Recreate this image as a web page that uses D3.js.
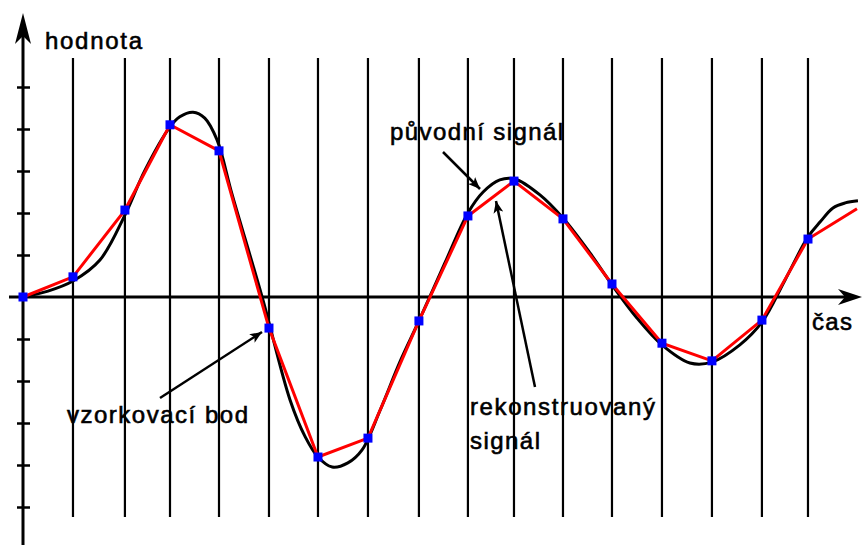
<!DOCTYPE html>
<html>
<head>
<meta charset="utf-8">
<script src="https://cdn.jsdelivr.net/npm/d3@7"></script>
<style>
  html, body { margin: 0; padding: 0; background: #fff; }
  svg { display: block; }
  text { font-family: "Liberation Sans", Arial, sans-serif; fill: #000; }
</style>
</head>
<body>
<svg id="chart" width="862" height="545"></svg>
<script>
// ---- data ----
const sampleTimes = [0, 1.02, 2.08, 3.0, 4.0, 5.02, 6.02, 7.04, 8.08, 9.08, 10.02, 11.02, 12.02, 13.04, 14.06, 15.08, 16.02];
const sampleValues = [0, 0.48, 2.07, 4.10, 3.48, -0.74, -3.81, -3.36, -0.57, 1.93, 2.76, 1.86, 0.31, -1.10, -1.52, -0.55, 1.38];
const reconTailTime = [17.02];
const reconTailValue = [2.10];
const signalTimes = [0, 0.51, 1.02, 1.57, 2.08, 2.49, 3.0, 3.20, 3.47, 3.71, 3.96, 4.27, 4.88, 5.45, 5.76, 6.02, 6.31, 6.63, 6.92, 7.29, 7.69, 8.08, 8.61, 9.08, 9.39, 9.73, 10.04, 10.55, 11.02, 11.57, 12.02, 12.53, 13.04, 13.61, 14.06, 14.63, 15.08, 15.55, 16.02, 16.27, 16.53, 16.78, 17.04];
const signalValues = [0, 0.14, 0.38, 0.88, 1.95, 3.02, 4.05, 4.29, 4.40, 4.26, 3.74, 2.43, 0, -2.45, -3.33, -3.81, -4.05, -3.95, -3.64, -2.69, -1.55, -0.57, 0.81, 2.0, 2.5, 2.79, 2.81, 2.43, 1.88, 1.05, 0.29, -0.5, -1.14, -1.57, -1.55, -1.14, -0.6, 0.40, 1.43, 1.79, 2.12, 2.24, 2.29];
const gridTimes = sampleTimes.slice(1);
const tickValues = [-5,-4,-3,-2,-1,1,2,3,4,5];
const yLabel = "hodnota";
const xLabel = "čas";
const labelSample = "vzorkovací bod";
const labelOriginal = "původní signál";
const labelRecon1 = "rekonstruovaný";
const labelRecon2 = "signál";

// ---- drawing ----
const svg = d3.select("#chart");
const x = d3.scaleLinear().domain([0, 17]).range([23, 23 + 17 * 49]);
const y = d3.scaleLinear().domain([-5, 5]).range([507, 87]);

const defs = svg.append("defs");
defs.append("marker").attr("id", "ah")
  .attr("viewBox", "0 0 12 10").attr("refX", 12).attr("refY", 5)
  .attr("markerWidth", 12).attr("markerHeight", 10).attr("markerUnits", "userSpaceOnUse")
  .attr("orient", "auto")
  .append("path").attr("d", "M0,0 L12,5 L0,10 L3,5 Z").attr("fill", "#000");

// vertical sample lines
svg.append("g").selectAll("line").data(gridTimes).join("line")
  .attr("x1", d => x(d)).attr("x2", d => x(d))
  .attr("y1", 58).attr("y2", 517)
  .attr("stroke", "#000").attr("stroke-width", 2.2);

// y axis ticks (via d3 axis)
const yAxis = d3.axisLeft(y).tickValues(tickValues).tickSize(13).tickFormat("");
const gy = svg.append("g").attr("transform", "translate(30,0)").call(yAxis);
gy.select(".domain").remove();
gy.selectAll(".tick line").attr("stroke", "#000").attr("stroke-width", 2.5);

// y axis line
svg.append("line").attr("x1", x(0)).attr("x2", x(0)).attr("y1", 30).attr("y2", 545)
  .attr("stroke", "#000").attr("stroke-width", 3);
// y arrow head
svg.append("path")
  .attr("d", `M${x(0)},13 L${x(0) + 8},44 L${x(0)},36 L${x(0) - 8},44 Z`)
  .attr("fill", "#000");

// x axis line
svg.append("line").attr("x1", 9).attr("x2", 848).attr("y1", y(0)).attr("y2", y(0))
  .attr("stroke", "#000").attr("stroke-width", 3);
svg.append("path")
  .attr("d", `M862,${y(0)} L838,${y(0) - 8} L845,${y(0)} L838,${y(0) + 8} Z`)
  .attr("fill", "#000");

// original signal
const signal = signalTimes.map((t, i) => [t, signalValues[i]]);
svg.append("path").datum(signal)
  .attr("d", d3.line().x(d => x(d[0])).y(d => y(d[1])).curve(d3.curveCatmullRom.alpha(0.5)))
  .attr("fill", "none").attr("stroke", "#000").attr("stroke-width", 3);

// reconstructed signal
const samples = sampleTimes.map((t, i) => [t, sampleValues[i]]);
const recon = samples.concat(reconTailTime.map((t, i) => [t, reconTailValue[i]]));
svg.append("path").datum(recon)
  .attr("d", d3.line().x(d => x(d[0])).y(d => y(d[1])))
  .attr("fill", "none").attr("stroke", "#ff0000").attr("stroke-width", 3);

// sample points
svg.append("g").selectAll("rect").data(samples).join("rect")
  .attr("x", d => x(d[0]) - 4.5).attr("y", d => y(d[1]) - 4.5)
  .attr("width", 9).attr("height", 9).attr("fill", "#0000ff");

// labels
function label(txt, lx, ly, len) {
  svg.append("text").attr("x", lx).attr("y", ly)
    .attr("font-size", 24).attr("textLength", len).attr("lengthAdjust", "spacing")
    .attr("stroke", "#000").attr("stroke-width", 0.6)
    .text(txt);
}
label(yLabel, 45, 49, 97);
label(xLabel, 812, 330, 40);
label(labelSample, 67, 423, 181);
label(labelOriginal, 390, 140, 173);
label(labelRecon1, 470, 415, 185);
label(labelRecon2, 470, 449, 70);

// annotation arrows
const arrows = [
  [160, 398, 262, 332],
  [443, 152, 480, 189],
  [535, 387, 496, 201]
];
svg.append("g").selectAll("line").data(arrows).join("line")
  .attr("x1", d => d[0]).attr("y1", d => d[1]).attr("x2", d => d[2]).attr("y2", d => d[3])
  .attr("stroke", "#000").attr("stroke-width", 2.5).attr("marker-end", "url(#ah)");
</script>
</body>
</html>
